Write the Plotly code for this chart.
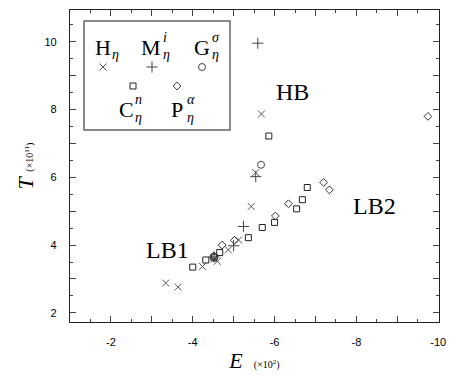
import plotly.graph_objects as go

# ---- data (E in 10^2, T in 10^11) ----
H_E = [-5.68, -5.54, -5.43, -5.12, -4.87, -4.60, -4.52, -4.24, -3.34, -3.64]
H_T = [7.87, 6.14, 5.14, 4.15, 3.86, 3.52, 3.60, 3.37, 2.88, 2.76]

M_E = [-5.59, -5.54, -5.24, -5.00, -4.52]
M_T = [9.96, 6.02, 4.55, 3.98, 3.65]

G_E = [-5.67, -4.52]
G_T = [6.37, 3.62]

C_E = [-5.86, -6.80, -6.68, -6.54, -6.00, -5.70, -5.36, -4.66, -4.32, -4.00, -4.52]
C_T = [7.22, 5.70, 5.34, 5.07, 4.67, 4.52, 4.22, 3.78, 3.56, 3.35, 3.65]

P_E = [-7.20, -7.34, -6.34, -6.02, -5.02, -4.72, -4.52, -9.75]
P_T = [5.85, 5.63, 5.22, 4.86, 4.14, 4.00, 3.68, 7.80]

x_ticks = [-2, -4, -6, -8, -10]
x_labels = ["-2", "-4", "-6", "-8", "-10"]
y_ticks = [2, 4, 6, 8, 10]
y_labels = ["2", "4", "6", "8", "10"]

X_RANGE = [-1, -10.02]
Y_RANGE = [1.73, 10.94]

# plot area in pixels (for converting key layout)
L, R, T0, B = 70, 439, 10, 322
def px(x):
    return (x - L) / (R - L)
def py(y):
    return 1 - (y - T0) / (B - T0)
def dx(x):
    return X_RANGE[0] + px(x) * (X_RANGE[1] - X_RANGE[0])
def dy(y):
    return Y_RANGE[0] + py(y) * (Y_RANGE[1] - Y_RANGE[0])

fig = go.Figure()
series = [
    ("H", H_E, H_T, "x-thin-open", 7, "#555555"),
    ("M", M_E, M_T, "cross-thin-open", 8, "#444444"),
    ("G", G_E, G_T, "circle-open", 7, "#444444"),
    ("C", C_E, C_T, "square-open", 6, "#222222"),
    ("P", P_E, P_T, "diamond-open", 6, "#333333"),
]
for name, xs, ys, sym, sz, col in series:
    fig.add_trace(go.Scatter(x=xs, y=ys, mode="markers", name=name,
                             marker=dict(symbol=sym, size=sz, color=col,
                                         line=dict(width=1, color=col)),
                             showlegend=False))

# key markers inside the drawn key box
leg_px = [(103, 67), (152, 67), (202, 67), (133, 86), (177, 86)]
for (lx, ly), (name, xs, ys, sym, sz, col) in zip(leg_px, series):
    fig.add_trace(go.Scatter(x=[dx(lx)], y=[dy(ly)], mode="markers",
                             showlegend=False, hoverinfo="skip",
                             marker=dict(symbol=sym, size=sz, color=col,
                                         line=dict(width=1, color=col))))
# invisible trace to activate the tick-only overlay axes
fig.add_trace(go.Scatter(x=[X_RANGE[0]], y=[Y_RANGE[0]], xaxis="x2", yaxis="y2",
                         mode="markers", marker=dict(opacity=0), showlegend=False,
                         hoverinfo="skip"))

serif = "Liberation Serif"
ann = []
def txt(x, y, s, size, xanchor="left"):
    ann.append(dict(x=px(x), y=py(y), xref="paper", yref="paper", text=s,
                    showarrow=False, xanchor=xanchor, yanchor="middle",
                    font=dict(family=serif, size=size, color="black")))

# key text
txt(93, 47, "H", 22); txt(110, 55, "<i>η</i>", 14)
txt(139, 47, "M", 22); txt(161, 37, "<i>i</i>", 14); txt(161, 55, "<i>η</i>", 14)
txt(192, 47, "G", 22); txt(210, 37, "<i>σ</i>", 14); txt(210, 55, "<i>η</i>", 14)
txt(117, 109, "C", 22); txt(133, 99, "<i>n</i>", 14); txt(133, 117, "<i>η</i>", 14)
txt(169, 109, "P", 22); txt(185, 99, "<i>α</i>", 14); txt(185, 117, "<i>η</i>", 14)

# region labels
for lx, ly, s in [(-6.44, 8.52, "HB"), (-3.39, 3.86, "LB1"), (-8.44, 5.16, "LB2")]:
    ann.append(dict(x=lx, y=ly, xref="x", yref="y", text=s, showarrow=False,
                    font=dict(family=serif, size=24, color="black")))

tickfont = dict(family="Liberation Sans", size=11, color="black")
axis_common = dict(showgrid=False, zeroline=False, showline=True, linecolor="#222222",
                   linewidth=1.2, mirror="ticks", ticks="inside", ticklen=6,
                   tickwidth=1, tickcolor="#444444", tickfont=tickfont)
tick_only = dict(showgrid=False, zeroline=False, showline=False, mirror="ticks",
                 ticks="inside", ticklen=6, tickwidth=1, tickcolor="#444444",
                 showticklabels=False, tickmode="linear", tick0=0, dtick=1,
                 fixedrange=True)

fig.update_layout(
    width=458, height=383,
    margin=dict(l=L, r=458 - R, t=T0, b=383 - B),
    paper_bgcolor="white", plot_bgcolor="white",
    xaxis=dict(range=X_RANGE, tickmode="array", tickvals=x_ticks, ticktext=x_labels,
               minor=dict(dtick=0.5, tick0=0, ticks="inside", ticklen=3, tickcolor="#444444"),
               ticklabelstandoff=10,
               title=dict(text="<i>E</i>  <span style='font-size:10px'>(×10<sup>2</sup>)</span>",
                          font=dict(family=serif, size=22, color="black"), standoff=2),
               **axis_common),
    yaxis=dict(range=Y_RANGE, tickmode="array", tickvals=y_ticks, ticktext=y_labels,
               minor=dict(dtick=0.5, tick0=0, ticks="inside", ticklen=3, tickcolor="#444444"),
               ticklabelstandoff=10,
               title=dict(text="<i>T</i> <span style='font-size:10px'>(×10<sup>11</sup>)</span>",
                          font=dict(family=serif, size=22, color="black"), standoff=4),
               **axis_common),
    xaxis2=dict(range=X_RANGE, overlaying="x", side="bottom", **tick_only),
    yaxis2=dict(range=Y_RANGE, overlaying="y", side="left", **tick_only),
    annotations=ann,
    shapes=[dict(type="rect", xref="paper", yref="paper",
                 x0=px(84), x1=px(230), y0=py(130), y1=py(21),
                 line=dict(color="#666666", width=1.5), fillcolor="rgba(0,0,0,0)")],
)

fig.write_html("out.html", config={"displayModeBar": False},
               post_script="document.body.style.margin='0';document.body.style.padding='0';")
